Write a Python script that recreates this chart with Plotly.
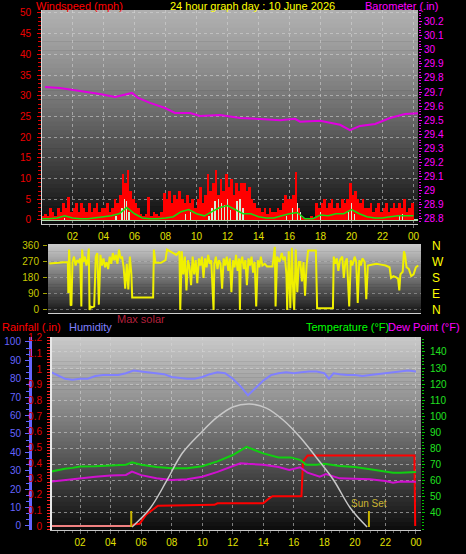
import plotly.graph_objects as go

# ---------------- data ----------------
hour_ticks = [2, 4, 6, 8, 10, 12, 14, 16, 18, 20, 22, 24]
hour_labels = ['02', '04', '06', '08', '10', '12', '14', '16', '18', '20', '22', '00']

# wind gust (mph), one value per 10 minutes from 00:00
gust_v = [
    1, 1.5, 1, 3, 2, 1,
    3, 2, 4, 3, 5.5, 2,
    3, 4, 2, 4, 3, 2,
    4, 2, 3, 4, 2, 3,
    3, 4, 2, 3, 5, 4,
    6, 11, 9, 12, 7, 5,
    4, 3, 1.5, 1, 1.5, 5.5,
    1, 2, 1.5, 1, 2, 6.5,
    5, 7, 4, 6, 5, 7,
    5, 4, 6, 4, 5, 3,
    5, 8, 4, 6, 11, 7,
    9, 12, 6, 10, 7, 11,
    8, 10, 6, 9, 7, 9,
    9, 7, 8, 5, 4, 3,
    3, 2, 3, 1.5, 3, 2,
    2, 3, 2.5, 4, 6, 5,
    5, 6, 11.5, 3, 1, 0.5,
    0.5, 0.5, 1, 0.5, 4, 3,
    4, 5, 3, 4, 5, 3,
    4, 3, 5, 4, 5, 9,
    6, 7, 5, 4, 5, 3,
    3, 4, 2, 3, 4, 2,
    3, 4, 2, 3, 4, 3,
    4, 3, 5, 2, 3, 4,
]
# wind speed bars (mph)
speed_t = [1.5, 4.8, 5.2, 5.35, 5.5, 5.65, 9.3, 9.6, 10.8, 11.0, 11.2, 11.4, 11.6, 11.8,
           12.0, 12.2, 12.6, 12.8, 13.0, 15.8, 16.2, 16.5, 16.7, 18.0, 19.8, 20.0, 20.2, 23.1, 23.3]
speed_v = [0.5, 1, 3, 5, 4.5, 2, 1.5, 2, 1, 3, 4.5, 5, 4, 3.5,
           5, 2.5, 4.5, 5, 3, 1, 3, 4, 2, 2, 2, 4, 1.5, 1, 1.5]
# average wind speed (mph), every 30 min
avg_t = [0, 0.5, 1, 1.5, 2, 2.5, 3, 3.5, 4, 4.5, 5, 5.5, 6, 6.5, 7, 7.5, 8, 8.5, 9, 9.5,
         10, 10.5, 11, 11.5, 12, 12.5, 13, 13.5, 14, 14.5, 15, 15.5, 16, 16.5, 17, 17.5,
         18, 18.5, 19, 19.5, 20, 20.5, 21, 21.5, 22, 22.5, 23, 23.5, 24]
avg_v = [0.3, 0.3, 0.5, 1.0, 0.5, 0.3, 0.3, 0.5, 0.8, 1.0, 1.5, 3.0, 1.5, 0.5, 0.3, 0.3, 0.5, 0.8, 2.0, 2.5,
         1.5, 1.0, 2.0, 3.0, 3.5, 2.5, 1.5, 1.5, 0.8, 0.5, 0.5, 1.0, 1.5, 1.8, 0.3, 0.3,
         1.2, 1.0, 1.5, 1.5, 2.5, 1.5, 0.8, 0.5, 0.5, 0.8, 1.0, 1.0, 1.0]
# barometer (inHg)
baro_t = [0.23, 1.19, 2.48, 3.77, 4.74, 5.39, 5.84, 6.23, 7.0, 7.97, 8.61, 9.58, 10.23, 11.52,
          12.81, 14.1, 15.39, 16.35, 16.68, 17.97, 19.26, 19.9, 20.55, 21.52, 22.48, 23.45, 24.29]
baro_v = [29.736, 29.729, 29.708, 29.687, 29.665, 29.68, 29.694, 29.658, 29.623, 29.587, 29.552, 29.552,
          29.53, 29.538, 29.516, 29.509, 29.50, 29.51, 29.49, 29.496, 29.468, 29.43, 29.46, 29.474,
          29.516, 29.545, 29.55]

# wind direction (degrees)
dir_t = [0.50, 0.80, 1.10, 1.40, 1.60, 1.70, 1.73, 1.78, 1.82, 1.88, 1.93, 2.00, 2.10, 2.20, 2.30, 2.40,
         2.50, 2.57, 2.62, 2.70, 2.80, 2.90, 3.00, 3.05, 3.10, 3.15, 3.25, 3.40, 3.50, 3.60, 3.70, 3.80,
         3.90, 4.00, 4.10, 4.20, 4.30, 4.40, 4.50, 4.60, 4.70, 4.80, 4.90, 5.00, 5.10, 5.20, 5.30, 5.40,
         5.50, 5.60, 5.70, 5.80, 5.85, 7.20, 7.25, 7.35, 7.70, 8.00, 8.10, 8.30, 8.50, 8.70, 8.90, 8.95,
         9.05, 9.15, 9.25, 9.35, 9.45, 9.55, 9.65, 9.75, 9.85, 9.95, 10.05, 10.15, 10.25, 10.35, 10.45,
         10.55, 10.65, 10.75, 10.85, 10.95, 11.05, 11.10, 11.15, 11.25, 11.35, 11.45, 11.55, 11.65, 11.75,
         11.85, 11.95, 12.05, 12.15, 12.25, 12.35, 12.45, 12.55, 12.65, 12.75, 12.80, 12.85, 12.95, 13.05,
         13.15, 13.25, 13.35, 13.45, 13.55, 13.65, 13.75, 13.85, 13.95, 14.05, 14.15, 14.25, 14.40, 14.55,
         14.90, 15.05, 15.10, 15.20, 15.35, 15.50, 15.60, 15.70, 15.80, 15.85, 15.95, 16.05, 16.15, 16.25,
         16.30, 16.40, 16.50, 16.60, 16.70, 16.80, 16.90, 17.00, 17.10, 17.20, 17.70, 17.78, 18.80, 18.85,
         18.95, 19.05, 19.15, 19.25, 19.40, 19.50, 19.60, 19.70, 19.85, 19.95, 20.05, 20.20, 20.30, 20.40,
         20.50, 20.60, 20.70, 20.85, 20.95, 21.05, 21.30, 21.60, 21.90, 22.20, 22.45, 22.55, 22.70, 22.85,
         23.00, 23.08, 23.15, 23.30, 23.38, 23.45, 23.55, 23.70, 23.85, 24.00, 24.15, 24.30]
dir_deg = [262, 262, 265, 268, 270, 270, 95, 340, 260, 28, 25, 270, 300, 250, 280, 270,
           290, 20, 340, 270, 300, 250, 290, 345, 0, 20, 15, 20, 300, 320, 30, 310,
           250, 290, 240, 270, 230, 300, 260, 320, 280, 310, 260, 340, 290, 300, 240, 120,
           260, 115, 300, 200, 70, 70, 340, 265, 265, 280, 340, 330, 320, 310, 330, 0,
           330, 200, 300, 110, 280, 240, 140, 300, 200, 280, 150, 290, 250, 300, 180,
           290, 240, 310, 260, 280, 90, 0, 260, 300, 230, 280, 260, 120, 290,
           250, 300, 220, 290, 100, 280, 240, 310, 220, 290, 0, 260, 300, 230,
           280, 140, 290, 250, 300, 210, 270, 20, 280, 240, 300, 250, 260, 245,
           245, 355, 20, 300, 270, 320, 280, 300, 200, 0, 330, 10, 350, 60,
           0, 340, 100, 270, 270, 160, 270, 80, 250, 335, 335, 10, 10, 300,
           260, 290, 220, 280, 300, 180, 270, 290, 20, 280, 250, 300, 270, 40,
           280, 250, 290, 270, 60, 250, 255, 260, 255, 250, 240, 180, 190, 185,
           175, 110, 200, 215, 330, 310, 240, 230, 190, 200, 240, 250]

# humidity (%)
hum_t = [0, 0.5, 1, 1.5, 2, 2.5, 3, 3.5, 4, 4.5, 5, 5.5, 6, 6.5, 7, 7.5, 8, 8.5, 9, 9.5, 10, 10.5,
         11, 11.5, 12, 12.5, 13, 13.5, 14, 14.5, 15, 15.5, 16, 16.5, 17, 17.5, 18, 18.3, 18.6, 19,
         19.5, 20, 20.5, 21, 21.5, 22, 22.5, 23, 23.5, 24]
hum_v = [84, 82, 80, 79.5, 80, 80, 81.5, 82, 82, 82, 83, 84.5, 84, 83.5, 83, 82.5, 81, 80.5, 80, 80,
         81, 82.5, 83.5, 83, 80, 76, 71, 75, 79, 82, 83, 83.5, 83, 83.5, 84, 84, 83, 80, 83, 82.5,
         82, 82, 81.5, 82, 82.5, 83, 83.5, 84, 84.5, 84]
# temperature (F)
temp_t = [0, 0.5, 1, 1.5, 2, 3, 4, 5, 5.4, 6, 7, 8, 9, 10, 11, 12, 12.9, 13.5, 14, 15, 15.8, 16.4,
          16.8, 17.5, 18, 19, 20, 21, 22, 22.5, 23, 24]
temp_v = [65.5, 66.5, 67.5, 68, 68.8, 69, 69.5, 70, 71.5, 70, 68.5, 67.8, 67.8, 69, 72, 76, 81, 79,
          77, 74.5, 74.5, 73, 70, 70, 70.5, 69.2, 68.5, 67.2, 66, 65, 65, 65.5]
# dew point (F)
dew_t = [0, 1, 2, 3, 4, 5, 5.4, 6, 7, 8, 9, 10, 11, 12, 12.5, 13, 14, 15, 15.7, 16.4, 16.9, 17.7,
         18.1, 19, 20, 21, 22, 22.5, 23, 24]
dew_v = [59.3, 60.5, 61.5, 62.5, 63.2, 63.6, 65.7, 63.5, 61.5, 60.5, 61, 62.5, 65.5, 69, 70.9, 70.5,
         70, 68.5, 66.7, 68.4, 65, 62.5, 64.2, 61.5, 61.2, 60.9, 59.8, 58.8, 59.5, 59.4]
# max solar (W/m2)
solar_t = [5.4, 6.6, 7.7, 8.7, 9.9, 11, 12, 13.1, 14.2, 15.3, 16.4, 17.5, 18.6, 19.7, 20.8]
solar_v = [0, 139, 344, 541, 688, 805, 878, 900, 870, 783, 658, 505, 344, 139, 0]
# rainfall (in)
rain_t = [0, 5.35, 5.5, 5.9, 6.3, 7.1, 10.8, 11, 14, 14.3, 14.6, 16.5, 16.6, 16.9, 23.9, 23.95]
rain_v = [0, 0, 0.01, 0.015, 0.07, 0.13, 0.135, 0.145, 0.145, 0.17, 0.19, 0.19, 0.41, 0.45, 0.45, 0]
sunrise_t = 5.35
sunset_t = 20.92

# ---------------- helpers ----------------
W, H = 466, 554
FONT = "Liberation Sans, Arial, sans-serif"


def px(x):
    return x / W


def py(y):
    return 1 - y / H


shapes = []


def gradient(x0, x1, ytop, ybot, top, bottom, gamma, n=48):
    for i in range(n):
        f0, f1 = i / n, (i + 1) / n
        fm = (i + 0.5) / n
        g = int(round(top - (top - bottom) * fm ** gamma))
        shapes.append(dict(type='rect', xref='paper', yref='paper', x0=px(x0), x1=px(x1),
                           y0=py(ytop + (ybot - ytop) * f0), y1=py(ytop + (ybot - ytop) * f1 + 0.6),
                           fillcolor=f'rgb({g},{g},{g})', line=dict(width=0), layer='below'))


gradient(42, 418, 10, 224, 176, 10, 1.2)
gradient(48, 421, 244, 313, 205, 22, 1.0)
gradient(52, 421, 337, 530, 200, 12, 1.1)

fig = go.Figure()

# ---- panel 1 ----
gust_t = [i / 6 + 1 / 12 for i in range(len(gust_v))]
fig.add_trace(go.Bar(x=gust_t, y=gust_v, width=1 / 6, marker=dict(color='#ff0000', line=dict(width=0)),
                     xaxis='x', yaxis='y'))
fig.add_trace(go.Bar(x=speed_t, y=speed_v, width=0.09, marker=dict(color='#d4ecd4', line=dict(width=0)),
                     xaxis='x', yaxis='y'))
fig.add_trace(go.Scatter(x=avg_t, y=avg_v, mode='lines', line=dict(color='#10e010', width=1.5),
                         xaxis='x', yaxis='y'))
fig.add_trace(go.Scatter(x=baro_t, y=baro_v, mode='lines', line=dict(color='#e000e0', width=2),
                         xaxis='x', yaxis='y2'))

# ---- panel 2 ----
fig.add_trace(go.Scatter(x=dir_t, y=dir_deg, mode='lines', line=dict(color='#f0f000', width=2),
                         xaxis='x2', yaxis='y3'))
fig.add_trace(go.Scatter(x=[None], y=[None], mode='lines', xaxis='x2', yaxis='y8'))

# ---- panel 3 ----
fig.add_trace(go.Scatter(x=solar_t, y=solar_v, mode='lines', line=dict(color='#c8c8c8', width=1.5, shape='spline'),
                         xaxis='x3', yaxis='y7'))
fig.add_trace(go.Scatter(x=[sunrise_t, sunrise_t], y=[0, 117], mode='lines', line=dict(color='#c8b400', width=2),
                         xaxis='x3', yaxis='y7'))
fig.add_trace(go.Scatter(x=[sunset_t, sunset_t], y=[0, 117], mode='lines', line=dict(color='#c8b400', width=2),
                         xaxis='x3', yaxis='y7'))
fig.add_trace(go.Scatter(x=rain_t[:2], y=rain_v[:2], mode='lines', line=dict(color='#f08080', width=2),
                         xaxis='x3', yaxis='y4'))
fig.add_trace(go.Scatter(x=rain_t[1:], y=rain_v[1:], mode='lines', line=dict(color='#ff0000', width=2),
                         xaxis='x3', yaxis='y4'))
fig.add_trace(go.Scatter(x=hum_t, y=hum_v, mode='lines', line=dict(color='#8080ff', width=2),
                         xaxis='x3', yaxis='y5'))
fig.add_trace(go.Scatter(x=temp_t, y=temp_v, mode='lines', line=dict(color='#10d010', width=2),
                         xaxis='x3', yaxis='y6'))
fig.add_trace(go.Scatter(x=dew_t, y=dew_v, mode='lines', line=dict(color='#d010d0', width=2),
                         xaxis='x3', yaxis='y6'))

grid = 'rgba(215,215,215,0.55)'
xcommon = dict(tickvals=hour_ticks, ticktext=hour_labels, tickfont=dict(color='#e0e000', size=10),
               ticks='outside', ticklen=3, tickcolor='#707070', showgrid=True, gridcolor=grid,
               griddash='dot', zeroline=False, showline=True, linecolor='#c8c8c8', linewidth=1,
               automargin=False,
               minor=dict(dtick=0.5, ticks='outside', ticklen=2, tickcolor='#606060', showgrid=False))

fig.update_layout(
    template='none',
    width=W, height=H, autosize=False,
    margin=dict(l=0, r=0, t=0, b=0, pad=0),
    paper_bgcolor='black', plot_bgcolor='rgba(0,0,0,0)',
    showlegend=False, barmode='overlay', bargap=0, hovermode=False,
    font=dict(family=FONT, size=10),
    shapes=shapes,
    xaxis=dict(domain=[px(42), px(418)], range=[0.03, 24.29], anchor='y', **xcommon),
    yaxis=dict(domain=[py(224), py(10)], range=[-0.97, 50.72], anchor='x', automargin=False,
               tickvals=[0, 5, 10, 15, 20, 25, 30, 35, 40, 45, 50],
               tickfont=dict(color='#ee0000', size=10), ticks='outside', ticklen=4, tickcolor='#ee0000',
               ticklabelstandoff=4,
               minor=dict(dtick=1, ticks='outside', ticklen=3, tickcolor='#dd0000', showgrid=False),
               showgrid=True, gridcolor=grid, griddash='dot', showline=True, linecolor='#d8d8d8',
               zeroline=True, zerolinecolor='#b0dcb0', zerolinewidth=2),
    yaxis2=dict(overlaying='y', side='right', anchor='x', range=[28.7645, 30.282], automargin=False,
                tickvals=[28.8, 28.9, 29.0, 29.1, 29.2, 29.3, 29.4, 29.5, 29.6, 29.7, 29.8, 29.9, 30.0, 30.1, 30.2],
                ticktext=['28.8', '28.9', '29', '29.1', '29.2', '29.3', '29.4', '29.5', '29.6', '29.7',
                          '29.8', '29.9', '30', '30.1', '30.2'],
                tickfont=dict(color='#ff00ff', size=10), ticks='outside', ticklen=3, tickcolor='#ff00ff',
                minor=dict(dtick=0.02, ticks='outside', ticklen=2, tickcolor='#e000e0', showgrid=False),
                showgrid=False, zeroline=False, showline=False),
    xaxis2=dict(domain=[px(48), px(421)], range=[0.42, 24.48], anchor='y3', showticklabels=False,
                automargin=False,
                ticks='', showgrid=False, zeroline=False, showline=True, linecolor='#d0d0d0'),
    yaxis3=dict(domain=[py(313), py(244)], range=[-17, 371], anchor='x2', automargin=False,
                tickvals=[0, 90, 180, 270, 360], tickfont=dict(color='#c8c800', size=10),
                ticks='outside', ticklen=4, tickcolor='#a0a000', ticklabelstandoff=2,
                showgrid=True, gridcolor='rgba(200,200,200,0.45)', griddash='dot', zeroline=False,
                showline=False),
    yaxis8=dict(overlaying='y3', side='right', anchor='x2', range=[-17, 371], automargin=False,
                tickvals=[0, 90, 180, 270, 360], ticktext=['N', 'E', 'S', 'W', 'N'],
                tickfont=dict(color='#ffff00', size=12), ticks='', ticklabelstandoff=10,
                showgrid=False, zeroline=False, showline=False),
    xaxis3=dict(domain=[px(52), px(421)], range=[0.16, 24.33], anchor='y4', **xcommon),
    yaxis4=dict(domain=[py(530), py(337)], range=[-0.025, 1.204], anchor='x3', side='left', automargin=False,
                tickvals=[0, 0.1, 0.2, 0.3, 0.4, 0.5, 0.6, 0.7, 0.8, 0.9, 1.0, 1.1, 1.2],
                ticktext=['0', '0.1', '0.2', '0.3', '0.4', '0.5', '0.6', '0.7', '0.8', '0.9', '1', '1.1', '1.2'],
                tickfont=dict(color='#e00000', size=10), ticks='outside', ticklen=3, tickcolor='#ff2020',
                ticklabelstandoff=3,
                minor=dict(dtick=0.02, ticks='outside', ticklen=3, tickcolor='#ff2020', showgrid=False),
                showgrid=False, zeroline=False, showline=True, linecolor='#e8e8e8', linewidth=2),
    yaxis5=dict(overlaying='y4', anchor='free', position=px(30), side='left', range=[-2.2, 102.7],
                automargin=False,
                tickvals=[0, 10, 20, 30, 40, 50, 60, 70, 80, 90, 100],
                tickfont=dict(color='#6464ff', size=10), ticks='outside', ticklen=4, tickcolor='#6464ff',
                ticklabelstandoff=2,
                minor=dict(dtick=10 / 3, ticks='outside', ticklen=3, tickcolor='#6464ff', showgrid=False),
                showgrid=False, zeroline=False, showline=True, linecolor='#6464ff', linewidth=3),
    yaxis6=dict(overlaying='y4', side='right', anchor='x3', range=[29.4, 149.3], automargin=False,
                tickvals=[40, 50, 60, 70, 80, 90, 100, 110, 120, 130, 140],
                tickfont=dict(color='#20e020', size=10), ticks='outside', ticklen=3, tickcolor='#00c000',
                ticklabelstandoff=3,
                minor=dict(dtick=2, ticks='outside', ticklen=2, tickcolor='#00c000', showgrid=False),
                showgrid=True, gridcolor=grid, griddash='dot', zeroline=False, showline=False),
    yaxis7=dict(overlaying='y4', anchor='x3', range=[-22, 1390], visible=False, automargin=False),
)


def label(x, y, text, color, anchor='left', size=11):
    fig.add_annotation(x=px(x), y=py(y), xref='paper', yref='paper', text=text, showarrow=False,
                       xanchor=anchor, yanchor='middle', font=dict(color=color, size=size, family=FONT))


label(34, 6.5, 'Windspeed (mph)', '#ff0000')
label(252, 6.5, '24 hour graph day : 10 June 2026', '#ffff00', 'center')
label(440, 6.5, 'Barometer (.in)', '#ff00ff', 'right')
label(141, 319, 'Max solar', '#b4203c', 'center')
label(0, 327, 'Rainfall (.in)', '#ff0000')
label(67, 327, 'Humidity', '#8080ff')
label(391, 327, 'Temperature (°F)', '#00ff00', 'right')
label(462, 327, 'Dew Point (°F)', '#ff00ff', 'right')
fig.add_annotation(x=sunset_t, y=117, xref='x3', yref='y7', text='Sun Set', showarrow=False,
                   yanchor='bottom', xanchor='center', font=dict(color='#c8b432', size=10, family=FONT))

fig.write_html("out.html", config={'displayModeBar': False, 'staticPlot': True},
               post_script="document.body.style.margin='0';document.body.style.overflow='hidden';")
